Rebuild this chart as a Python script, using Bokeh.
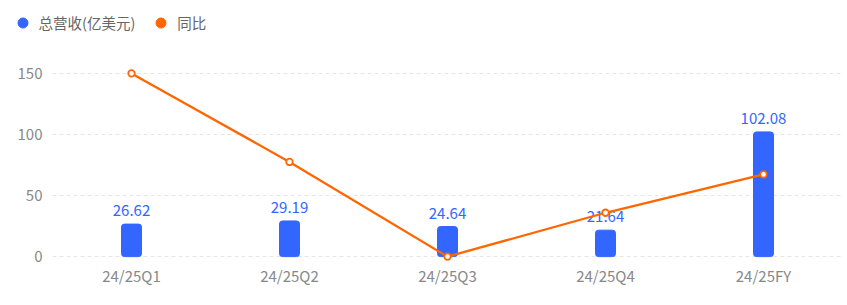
from bokeh.plotting import figure
from bokeh.layouts import column
from bokeh.models import Range1d, FactorRange, FixedTicker, Legend, LegendItem
from bokeh.core.properties import value
from bokeh.embed import file_html
from bokeh.resources import INLINE

categories = ["24/25Q1", "24/25Q2", "24/25Q3", "24/25Q4", "24/25FY"]
revenue = [26.62, 29.19, 24.64, 21.64, 102.08]
yoy = [150.0, 77.5, 0.0, 35.9, 67.3]
y_ticks = [0, 50, 100, 150]
legend_labels = ["总营收(亿美元)", "同比"]

BLUE = "#3366ff"
ORANGE = "#ff6600"
GRAY = "#888888"
FONT = "Noto Sans CJK SC"

LEG_H = 40

# legend strip
lf = figure(width=847, height=LEG_H, x_range=Range1d(0, 1), y_range=Range1d(0, 1),
            output_backend="svg", toolbar_location=None, min_border=0,
            x_axis_location=None, y_axis_location=None, outline_line_color=None, title=None)
lf.frame_align = False
lf.xgrid.visible = False
lf.ygrid.visible = False
r_bar = lf.scatter(x=[-10], y=[-10], size=10, fill_color=BLUE, line_color=BLUE)
r_line = lf.scatter(x=[-10], y=[-10], size=10, fill_color=ORANGE, line_color=ORANGE)
legend = Legend(items=[LegendItem(label=legend_labels[0], renderers=[r_bar]),
                       LegendItem(label=legend_labels[1], renderers=[r_line])],
                location=(9.5, LEG_H - 9.5 - 25), orientation="horizontal",
                glyph_width=25, glyph_height=25, label_standoff=4, spacing=13,
                padding=0, margin=0, border_line_alpha=0, background_fill_alpha=0,
                label_text_font_size="14.5px", label_text_color="#666666",
                label_text_font=FONT)
lf.add_layout(legend)

# main chart
p = figure(width=847, height=305 - LEG_H, x_range=FactorRange(factors=categories, range_padding=0),
           y_range=Range1d(-4, 154), output_backend="svg", toolbar_location=None,
           min_border_left=52, min_border_right=5, min_border_top=68 - LEG_H, min_border_bottom=44,
           outline_line_color=None, title=None)
p.frame_align = False

p.vbar(x=categories, top=revenue, width=20/158, color=BLUE, border_radius=3)
p.text(x=categories, y=revenue, text=[f"{v:.2f}" for v in revenue], text_align="center",
       text_baseline="bottom", y_offset=-8, text_color=BLUE, text_font=value(FONT),
       text_font_size="15px")
p.line(x=categories, y=yoy, line_color=ORANGE, line_width=2.3)
p.scatter(x=categories, y=yoy, size=6.5, fill_color="white", line_color=ORANGE, line_width=1.8)

p.yaxis.ticker = FixedTicker(ticks=y_ticks)
for ax in (p.xaxis[0], p.yaxis[0]):
    ax.axis_line_color = None
    ax.major_tick_line_color = None
    ax.minor_tick_line_color = None
    ax.major_tick_in = 0
    ax.major_tick_out = 0
    ax.major_label_text_color = GRAY
    ax.major_label_text_font = FONT
    ax.major_label_text_font_size = "15px"
p.yaxis.major_label_standoff = 10
p.xaxis.major_label_standoff = 3

p.xgrid.grid_line_color = None
p.ygrid.grid_line_color = "#e6e6e6"
p.ygrid.grid_line_dash = "4 3"
p.ygrid.grid_line_width = 1

layout = column(lf, p, spacing=0)
open("out.html", "w").write(file_html(layout, INLINE))
